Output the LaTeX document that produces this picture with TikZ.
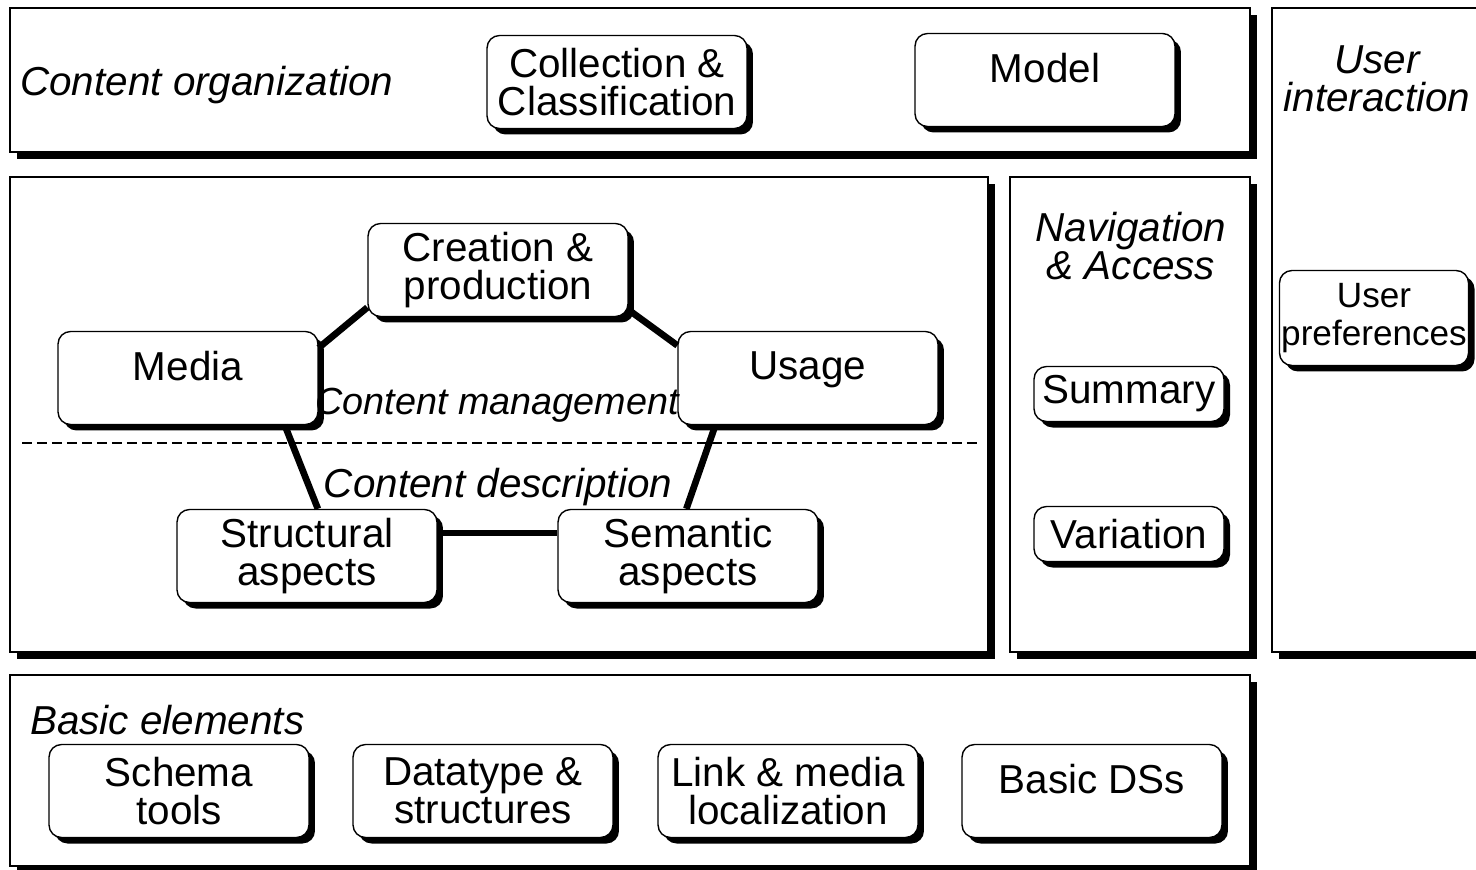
\documentclass[tikz,border=0pt]{standalone}
\usepackage{fontspec}
\setmainfont{Liberation Sans}
\usetikzlibrary{shadows}
\tikzstyle{panel} = [rectangle, draw=black, line width=0.8pt, fill=white, drop shadow={shadow xshift=0.14cm, shadow yshift=-0.14cm, opacity=1, fill=black}]
\tikzstyle{block} = [rectangle, rounded corners=0.25cm, draw=black, line width=0.8pt, fill=white, minimum width=5.2cm, minimum height=1.86cm, inner sep=1pt, align=center, font=\fontsize{23}{21.6}\selectfont, drop shadow={shadow xshift=0.12cm, shadow yshift=-0.12cm, opacity=1, fill=black}]
\tikzstyle{oneline} = [text depth=0.48cm]
\tikzstyle{smallblock} = [minimum width=3.8cm, minimum height=1.1cm]
\tikzstyle{heading} = [align=center, font=\fontsize{23}{21.6}\selectfont\itshape, inner sep=0pt]
\tikzstyle{link} = [line width=3.8pt]

\begin{document}
\begin{tikzpicture}[x=0.02cm, y=-0.02cm]
\useasboundingbox (0,0) rectangle (1476,869);

% outer panels
\node (orgbox) [panel, minimum width=24.8cm, minimum height=2.88cm] at (630,80) {};
\node (mgmtbox) [panel, minimum width=19.56cm, minimum height=9.5cm] at (499,414.5) {};
\node (navbox) [panel, minimum width=4.8cm, minimum height=9.5cm] at (1130,414.5) {};
\node (userbox) [panel, minimum width=4.36cm, minimum height=12.88cm] at (1381,330) {};
\node (basicbox) [panel, minimum width=24.8cm, minimum height=3.82cm] at (630,770.5) {};

% panel titles
\node (orgtitle) [heading, anchor=west] at (20,85) {Content organization};
\node (usertitle) [heading] at (1377,79) {User\\interaction};
\node (navtitle) [heading] at (1131,246) {Navigation\\\& Access};
\node (basictitle) [heading, anchor=west] at (30,720) {Basic elements};

\draw [line width=1pt, dash pattern=on 0.2cm off 0.1cm] (22,443) -- (978,443);

% blocks
\node (collection) [block] at (617,82) {Collection \&\\Classification};
\node (model) [block, oneline] at (1045,80) {Model};
\node (creation) [block] at (498,270) {Creation \&\\production};
\node (media) [block, oneline] at (188,378) {Media};
\node (usage) [block, oneline] at (808,378) {Usage};
\node (structural) [block] at (307,556) {Structural\\aspects};
\node (semantic) [block] at (688,556) {Semantic\\aspects};
\node (summary) [block, smallblock] at (1129,394) {Summary};
\node (variation) [block, smallblock] at (1129,534) {Variation};
\node (userpref) [block, minimum width=3.76cm, minimum height=1.9cm, font=\fontsize{20}{21.6}\selectfont] at (1374,318) {User\\preferences};
\node (schema) [block] at (179,791) {Schema\\tools};
\node (datatype) [block] at (483,791) {Datatype \&\\structures};
\node (linkloc) [block] at (788,791) {Link \& media\\localization};
\node (basicds) [block, oneline] at (1092,791) {Basic DSs};

% layer titles between the blocks
\node (mgmttitle) [heading, font=\fontsize{21.5}{21.6}\selectfont\itshape] at (497,405) {Content management};
\node (desctitle) [heading] at (498,487) {Content description};

% links
\draw [link] (media.13) -- (creation.196);
\draw [link] (creation.343) -- (usage.166);
\draw [link] (media.334) -- (structural.77);
\draw [link] (usage.207) -- (semantic.92);
\draw [link] (structural.10) -- (semantic.170);
\end{tikzpicture}
\end{document}
